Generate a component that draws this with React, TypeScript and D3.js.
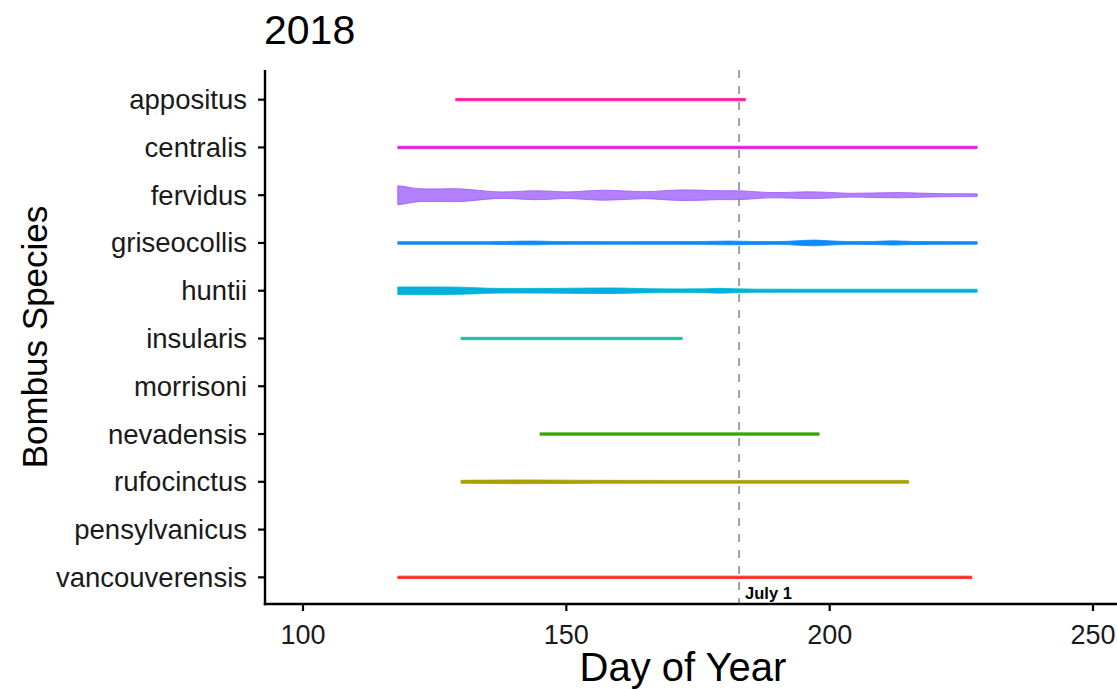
import React from "react";
import * as d3 from "d3";

// Species, top to bottom as drawn
const speciesOrder = [
  "appositus",
  "centralis",
  "fervidus",
  "griseocollis",
  "huntii",
  "insularis",
  "morrisoni",
  "nevadensis",
  "rufocinctus",
  "pensylvanicus",
  "vancouverensis",
];

const speciesColors: Record<string, string> = {
  appositus: "#ff1aa0",
  centralis: "#e41ee6",
  fervidus: "#9a55ff",
  griseocollis: "#0a8cff",
  huntii: "#00b2da",
  insularis: "#1ebba0",
  morrisoni: "#00bd5c",
  nevadensis: "#3aa600",
  rufocinctus: "#a8a000",
  pensylvanicus: "#db8e00",
  vancouverensis: "#ff2a1e",
};

// Violin outlines: [day of year, relative half-width]
const appositusProfile: [number, number][] = [[129, 1.2], [184, 1.2]];
const centralisProfile: [number, number][] = [[118, 1.2], [228, 1.2]];
const fervidusProfile: [number, number][] = [
  [118, 9.5], [119.5, 8.5], [121, 7], [123, 6.3], [126, 6.3], [129, 6.5], [132, 5.5],
  [135, 4], [138, 3.2], [141, 3.8], [144, 4.5], [147, 4], [150, 3.3], [153, 4],
  [157, 5], [161, 4.3], [165, 3.5], [168, 4.3], [172, 5.3], [176, 5], [179, 4.4],
  [182, 4.5], [185, 3.8], [189, 2.6], [192, 2.8], [196, 3.4], [200, 2.8], [204, 1.9],
  [208, 2.2], [213, 2.6], [217, 2.1], [222, 1.5], [228, 1.4],
];
const griseocollisProfile: [number, number][] = [
  [118, 1.3], [135, 1.3], [140, 1.7], [144, 1.9], [148, 1.4], [160, 1.3], [175, 1.4],
  [181, 1.9], [185, 1.5], [190, 1.4], [194, 2.2], [197, 2.9], [200, 2.1], [204, 1.4],
  [208, 1.5], [212, 2.1], [216, 1.5], [228, 1.3],
];
const huntiiProfile: [number, number][] = [
  [118, 3.8], [125, 3.8], [130, 3.6], [133, 3.0], [136, 2.4], [142, 2.3], [148, 2.4],
  [154, 2.7], [159, 2.8], [162, 2.5], [166, 2.0], [172, 1.8], [176, 1.9], [179, 2.4],
  [182, 2.0], [186, 1.6], [195, 1.5], [210, 1.5], [228, 1.5],
];
const insularisProfile: [number, number][] = [[130, 1.2], [172, 1.2]];
const morrisoniProfile: [number, number][] = [];
const nevadensisProfile: [number, number][] = [[145, 1.2], [198, 1.2]];
const rufocinctusProfile: [number, number][] = [
  [130, 1.5], [135, 1.7], [140, 1.9], [146, 1.8], [155, 1.5], [170, 1.4], [190, 1.4], [215, 1.4],
];
const pensylvanicusProfile: [number, number][] = [];
const vancouverensisProfile: [number, number][] = [[118, 1.2], [227, 1.2]];

const profiles: Record<string, [number, number][]> = {
  appositus: appositusProfile,
  centralis: centralisProfile,
  fervidus: fervidusProfile,
  griseocollis: griseocollisProfile,
  huntii: huntiiProfile,
  insularis: insularisProfile,
  morrisoni: morrisoniProfile,
  nevadensis: nevadensisProfile,
  rufocinctus: rufocinctusProfile,
  pensylvanicus: pensylvanicusProfile,
  vancouverensis: vancouverensisProfile,
};

const xTicks = [100, 150, 200, 250];
const july1Day = 182.8;
const titleText = "2018";
const xTitle = "Day of Year";
const yTitle = "Bombus Species";
const july1Label = "July 1";

const W = 1117;
const H = 689;
const left = 265;
const right = 1117;
const top = 70;
const bottom = 604;

export default function App() {
  const x = d3.scaleLinear().domain([100, 250]).range([303, 1093]);
  const y = d3.scalePoint<string>().domain(speciesOrder).range([71, 606]).padding(0.6);
  const font = "'Liberation Sans', Arial, Helvetica, sans-serif";

  return (
    <svg width={W} height={H} style={{ position: "absolute", left: 0, top: 0, background: "#fff" }}>
      <rect x={0} y={0} width={W} height={H} fill="#fff" />
      {/* violins */}
      {speciesOrder.map((s) => {
        const prof = profiles[s];
        if (!prof.length) return null;
        const cy = y(s)!;
        const area = d3
          .area<[number, number]>()
          .x((d) => x(d[0]))
          .y0((d) => cy - d[1])
          .y1((d) => cy + d[1])
          .curve(d3.curveMonotoneX);
        const col = speciesColors[s];
        return (
          <path
            key={s}
            d={area(prof) || ""}
            fill={col}
            fillOpacity={s === "fervidus" ? 0.75 : 1}
            stroke={col}
            strokeWidth={0.8}
          />
        );
      })}
      {/* July 1 line */}
      <line
        x1={x(july1Day)}
        x2={x(july1Day)}
        y1={top}
        y2={bottom}
        stroke="#8c8c8c"
        strokeWidth={1.6}
        strokeDasharray="8,8"
      />
      <text x={x(july1Day) + 6} y={599} fontFamily={font} fontWeight="bold" fontSize={16.5} fill="#000">
        {july1Label}
      </text>
      {/* axes */}
      <line x1={left} x2={left} y1={top} y2={bottom + 1.2} stroke="#000" strokeWidth={2.4} />
      <line x1={left - 1.2} x2={right} y1={bottom} y2={bottom} stroke="#000" strokeWidth={2.4} />
      {speciesOrder.map((s) => (
        <g key={s}>
          <line x1={left - 7} x2={left} y1={y(s)} y2={y(s)} stroke="#000" strokeWidth={2.2} />
          <text
            x={left - 18}
            y={y(s)! + 9.5}
            textAnchor="end"
            fontFamily={font}
            fontSize={27.5}
            fill="#1a1a1a"
          >
            {s}
          </text>
        </g>
      ))}
      {xTicks.map((t) => (
        <g key={t}>
          <line x1={x(t)} x2={x(t)} y1={bottom} y2={bottom + 7} stroke="#000" strokeWidth={2.2} />
          <text x={x(t)} y={644} textAnchor="middle" fontFamily={font} fontSize={27} fill="#1a1a1a">
            {t}
          </text>
        </g>
      ))}
      <text x={683} y={681} textAnchor="middle" fontFamily={font} fontSize={40} fill="#000">
        {xTitle}
      </text>
      <text
        transform={`translate(47, ${(top + bottom) / 2}) rotate(-90)`}
        textAnchor="middle"
        fontFamily={font}
        fontSize={35}
        fill="#000"
      >
        {yTitle}
      </text>
      <text x={264} y={44} fontFamily={font} fontSize={41} fill="#000">
        {titleText}
      </text>
    </svg>
  );
}
